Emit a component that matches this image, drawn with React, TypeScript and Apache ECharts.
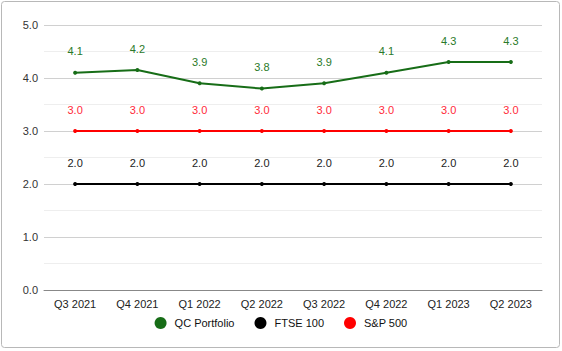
import React, { useEffect, useRef } from "react";
import * as echarts from "echarts";

const categories = ["Q3 2021", "Q4 2021", "Q1 2022", "Q2 2022", "Q3 2022", "Q4 2022", "Q1 2023", "Q2 2023"];
const qcPortfolio = [4.1, 4.15, 3.9, 3.8, 3.9, 4.1, 4.3, 4.3];
const ftse100 = [2.0, 2.0, 2.0, 2.0, 2.0, 2.0, 2.0, 2.0];
const sp500 = [3.0, 3.0, 3.0, 3.0, 3.0, 3.0, 3.0, 3.0];

const fmt = (v: number) => (Math.round(v * 10) / 10).toFixed(1);

export default function App() {
  const ref = useRef<HTMLDivElement>(null);
  useEffect(() => {
    if (!ref.current) return;
    const chart = echarts.init(ref.current, null, { renderer: "svg" });
    const mk = (name: string, data: number[], color: string, labelColor: string) => ({
      name,
      type: "line",
      data,
      symbol: "circle",
      symbolSize: 4,
      lineStyle: { color, width: 2 },
      itemStyle: { color },
      label: {
        show: true,
        position: "top",
        distance: 14,
        color: labelColor,
        fontSize: 11,
        fontFamily: "Liberation Sans, Arial, sans-serif",
        formatter: (p: any) => fmt(p.value),
      },
    });
    chart.setOption({
      animation: false,
      backgroundColor: "#ffffff",
      textStyle: { fontFamily: "Liberation Sans, Arial, sans-serif" },
      graphic: [
        {
          type: "rect",
          shape: { x: 1.5, y: 1.5, width: 558, height: 346, r: 3 },
          style: { fill: "none", stroke: "#b8b8b8", lineWidth: 1 },
          silent: true,
        },
      ],
      grid: { left: 44, right: 20, top: 25, bottom: 61 },
      legend: {
        bottom: 17,
        left: "center",
        icon: "circle",
        itemWidth: 12,
        itemHeight: 12,
        itemGap: 20,
        textStyle: { fontSize: 11, color: "#111", padding: [0, 0, 0, 3] },
        data: ["QC Portfolio", "FTSE 100", "S&P 500"],
      },
      xAxis: {
        type: "category",
        data: categories,
        boundaryGap: true,
        axisLine: { show: true, lineStyle: { color: "#888", width: 1 } },
        axisTick: { show: false },
        axisLabel: { color: "#222", fontSize: 11, margin: 8 },
        splitLine: { show: false },
      },
      yAxis: {
        type: "value",
        min: 0,
        max: 5,
        interval: 1,
        axisLine: { show: false },
        axisTick: { show: false },
        axisLabel: { color: "#333", fontSize: 11, margin: 6, formatter: (v: number) => v.toFixed(1) },
        splitLine: { show: true, lineStyle: { color: "#d0d0d0", width: 1 } },
        minorTick: { show: false, splitNumber: 2 },
        minorSplitLine: { show: true, lineStyle: { color: "#eeeeee", width: 1 } },
      },
      series: [
        mk("QC Portfolio", qcPortfolio, "#176d17", "#2a7a2a"),
        mk("FTSE 100", ftse100, "#000000", "#222222"),
        mk("S&P 500", sp500, "#ff0000", "#ff2a3a"),
      ],
    });
    return () => chart.dispose();
  }, []);
  return (
    <div
      ref={ref}
      style={{ position: "fixed", left: 0, top: 0, width: 562, height: 351 }}
    />
  );
}
